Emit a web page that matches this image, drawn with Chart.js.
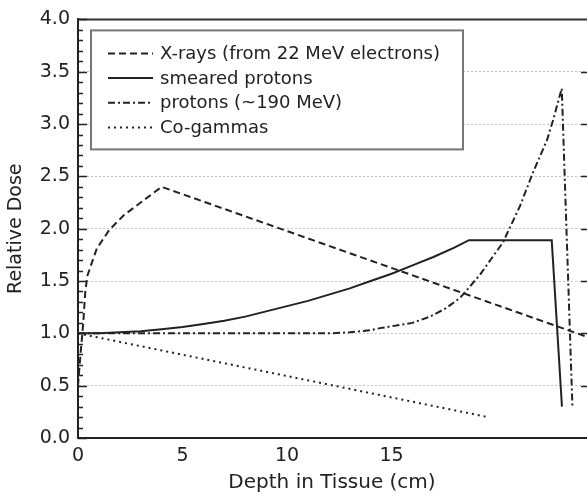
<!DOCTYPE html>
<html>
<head>
<meta charset="utf-8">
<script src="https://cdn.jsdelivr.net/npm/chart.js@4.4.1/dist/chart.umd.min.js"></script>
<style>
  html, body { margin: 0; padding: 0; background: #fff; }
  #wrap { width: 587px; height: 498px; }
</style>
</head>
<body>
<div id="wrap"><canvas id="chart" width="587" height="498"></canvas></div>
<script>
// values (depth in cm, relative dose)
const seriesLabels = ['X-rays (from 22 MeV electrons)', 'smeared protons', 'protons (~190 MeV)', 'Co-gammas'];

const xrayDepth = [0, 0.12, 0.25, 0.35, 0.45, 0.6, 0.9, 1.5, 2.2, 3.0, 4.0, 24.3];
const xrayDose = [0.5, 0.8, 1.1, 1.4, 1.55, 1.64, 1.81, 1.99, 2.13, 2.25, 2.4, 0.97];

const smearedDepth = [0, 1, 2, 3, 4, 5, 6, 7, 8, 9, 10, 11, 12, 13, 14, 15, 16, 17, 18, 18.7, 22.66, 23.15];
const smearedDose = [1.0, 1.0, 1.01, 1.02, 1.04, 1.06, 1.09, 1.12, 1.16, 1.21, 1.26, 1.31, 1.37, 1.43, 1.5, 1.57, 1.65, 1.73, 1.82, 1.89, 1.89, 0.3];

const protonDepth = [0, 12, 13, 14, 14.45, 16.0, 16.84, 17.6, 18.28, 19.23, 20.33, 21.15, 21.77, 22.44, 22.73, 23.14, 23.65];
const protonDose = [1.0, 1.0, 1.01, 1.03, 1.05, 1.1, 1.16, 1.24, 1.34, 1.56, 1.87, 2.22, 2.54, 2.85, 3.04, 3.34, 0.3];

const cobaltDepth = [0, 19.6];
const cobaltDose = [1.0, 0.2];

const xTicks = [0, 5, 10, 15];
const yTicks = [0, 0.5, 1.0, 1.5, 2.0, 2.5, 3.0, 3.5, 4.0];

const toPoints = (xs, ys) => xs.map((x, i) => ({ x: x, y: ys[i] }));

const ink = '#222';
const fontFamily = '"DejaVu Sans", sans-serif';

// draws the boxed legend, the top frame line and the inward tick marks
const framePlugin = {
    id: 'frame',
    afterDatasetsDraw(chart) {
        const { ctx, chartArea } = chart;
        const boxX = chartArea.left + 13, boxY = chartArea.top + 11;
        const boxW = 372, boxH = 119;
        ctx.save();
        ctx.fillStyle = '#fff';
        ctx.fillRect(boxX, boxY, boxW, boxH);
        ctx.strokeStyle = '#777';
        ctx.lineWidth = 2;
        ctx.strokeRect(boxX, boxY, boxW, boxH);

        ctx.font = '18px ' + fontFamily;
        ctx.textBaseline = 'middle';
        ctx.fillStyle = ink;
        chart.data.datasets.forEach((ds, i) => {
            const y = boxY + 23 + i * 24.7;
            ctx.beginPath();
            ctx.setLineDash(ds.borderDash || []);
            ctx.lineWidth = ds.borderWidth;
            ctx.strokeStyle = ds.borderColor;
            ctx.moveTo(boxX + 17, y);
            ctx.lineTo(boxX + 62, y);
            ctx.stroke();
            ctx.fillText(ds.label, boxX + 69, y + 1);
        });
        ctx.restore();
    },
    afterDraw(chart) {
        const { ctx, chartArea, scales } = chart;
        const yScale = scales.y;
        ctx.save();
        ctx.strokeStyle = '#333';
        ctx.lineWidth = 2;
        ctx.beginPath();
        ctx.moveTo(chartArea.left - 1, chartArea.top);
        ctx.lineTo(chartArea.right + 2, chartArea.top);
        ctx.stroke();

        ctx.lineWidth = 1.5;
        ctx.strokeStyle = ink;
        ctx.beginPath();
        for (let k = 0; k <= 40; k++) {
            const py = Math.round(yScale.getPixelForValue(k / 10)) + 0.5;
            const len = k % 5 === 0 ? 9 : 5;
            ctx.moveTo(chartArea.left, py);
            ctx.lineTo(chartArea.left + len, py);
            if (k % 5 === 0 && k > 0 && k < 40) {
                ctx.moveTo(chartArea.right - 5, py);
                ctx.lineTo(chartArea.right + 1, py);
            }
        }
        ctx.stroke();
        ctx.restore();
    }
};

const lineStyle = {
    borderColor: ink,
    borderWidth: 2,
    pointRadius: 0,
    tension: 0,
    fill: false
};

new Chart(document.getElementById('chart').getContext('2d'), {
    type: 'line',
    data: {
        datasets: [
            { ...lineStyle, label: seriesLabels[0], data: toPoints(xrayDepth, xrayDose), borderDash: [7, 4] },
            { ...lineStyle, label: seriesLabels[1], data: toPoints(smearedDepth, smearedDose), borderDash: [] },
            { ...lineStyle, label: seriesLabels[2], data: toPoints(protonDepth, protonDose), borderDash: [7, 3, 2, 3] },
            { ...lineStyle, label: seriesLabels[3], data: toPoints(cobaltDepth, cobaltDose), borderDash: [2, 4] }
        ]
    },
    options: {
        responsive: false,
        animation: false,
        devicePixelRatio: 1,
        layout: { padding: { top: 15, right: 1, left: 0, bottom: 0 } },
        plugins: {
            legend: { display: false },
            tooltip: { enabled: false }
        },
        scales: {
            x: {
                type: 'linear',
                min: 0,
                max: 24.3,
                afterBuildTicks: scale => { scale.ticks = xTicks.map(v => ({ value: v })); },
                afterFit: scale => { scale.height = 60; },
                grid: { display: false, drawTicks: false },
                border: { display: true, color: ink, width: 2 },
                ticks: {
                    color: ink,
                    padding: 7,
                    maxRotation: 0,
                    font: { family: fontFamily, size: 19 },
                    callback: v => String(v)
                },
                title: {
                    display: true,
                    text: 'Depth in Tissue (cm)',
                    color: ink,
                    padding: { top: 0, bottom: 3 },
                    font: { family: fontFamily, size: 20 }
                }
            },
            y: {
                min: 0,
                max: 4,
                afterBuildTicks: scale => { scale.ticks = yTicks.map(v => ({ value: v })); },
                afterFit: scale => { scale.width = 78; },
                grid: {
                    drawTicks: false,
                    lineWidth: 1,
                    color: c => (c.tick && (c.tick.value === 0 || c.tick.value === 4)) ? 'rgba(0,0,0,0)' : '#c4c4c4'
                },
                border: { display: true, color: ink, width: 2, dash: [2, 2] },
                ticks: {
                    color: ink,
                    padding: 8,
                    font: { family: fontFamily, size: 19 },
                    callback: v => Number(v).toFixed(1)
                },
                title: {
                    display: true,
                    text: 'Relative Dose',
                    color: ink,
                    padding: { top: 5, bottom: 0 },
                    font: { family: fontFamily, size: 19 }
                }
            }
        }
    },
    plugins: [framePlugin]
});
</script>
</body>
</html>
